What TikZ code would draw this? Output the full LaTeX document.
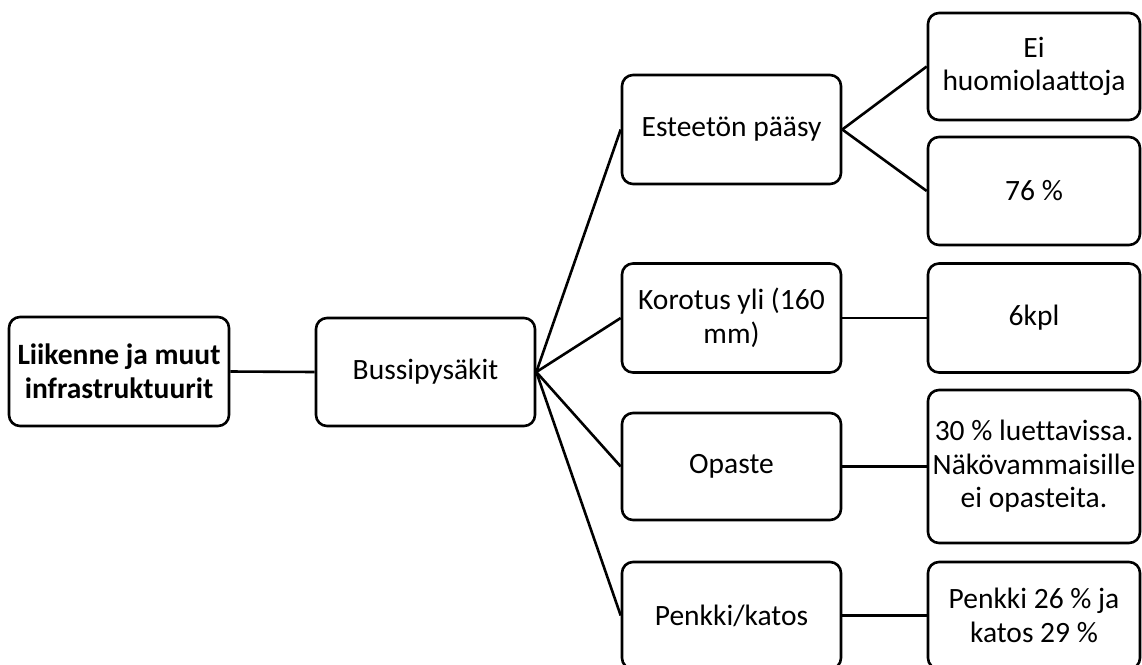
\documentclass[tikz,border=0pt]{standalone}
\usepackage{fontspec}
\setmainfont[Ligatures=NoCommon]{Carlito}
\begin{document}
\begin{tikzpicture}[x=1pt,y=-1pt,
  box/.style={draw=black, line width=2.6pt, rounded corners=11pt, fill=white,
    align=center, inner sep=2pt, font=\fontsize{29.5}{33.5}\selectfont},
  midbox/.style={box, minimum width=219pt},
  rbox/.style={box, minimum width=212pt},
  link/.style={draw=black, line width=2.6pt}]
\useasboundingbox (0,0) rectangle (1142,664);
\fill[white] (0,0) rectangle (1142,664);
% nodes
\node[box, minimum width=220pt, minimum height=109pt, font=\fontsize{29.5}{33.5}\selectfont\bfseries] (root) at (119,371.5) {Liikenne ja muut\\infrastruktuurit};
\node[midbox, minimum height=108pt] (bus) at (425.5,372) {Bussipysäkit};
\node[midbox, minimum height=109pt] (est) at (731.5,129.5) {Esteetön pääsy};
\node[midbox, minimum height=109pt] (kor) at (731.5,318) {Korotus yli (160\\mm)};
\node[midbox, minimum height=107pt] (opa) at (731.5,466.5) {Opaste};
\node[midbox, minimum height=107pt] (pen) at (731.5,615.5) {Penkki/katos};
\node[rbox, minimum height=107pt] (ei) at (1034,66.5) {Ei\\huomiolaattoja};
\node[rbox, minimum height=108pt] (p76) at (1034,191) {76 \%};
\node[rbox, minimum height=109pt] (kpl) at (1034,318) {6kpl};
\node[rbox, minimum height=153pt] (lue) at (1034,466.5) {30 \% luettavissa.\\Näkövammaisille\\ei opasteita.};
\node[rbox, minimum height=107pt] (pk) at (1034,615.5) {Penkki 26 \% ja\\katos 29 \%};
% connectors
\path[link] (root.east) -- (bus.west);
\path[link] (bus.east) -- (est.west);
\path[link] (bus.east) -- (kor.west);
\path[link] (bus.east) -- (opa.west);
\path[link] (bus.east) -- (pen.west);
\path[link] (est.east) -- (ei.west);
\path[link] (est.east) -- (p76.west);
\path[link] (kor.east) -- (kpl.west);
\path[link] (opa.east) -- (lue.west);
\path[link] (pen.east) -- (pk.west);
\end{tikzpicture}
\end{document}
